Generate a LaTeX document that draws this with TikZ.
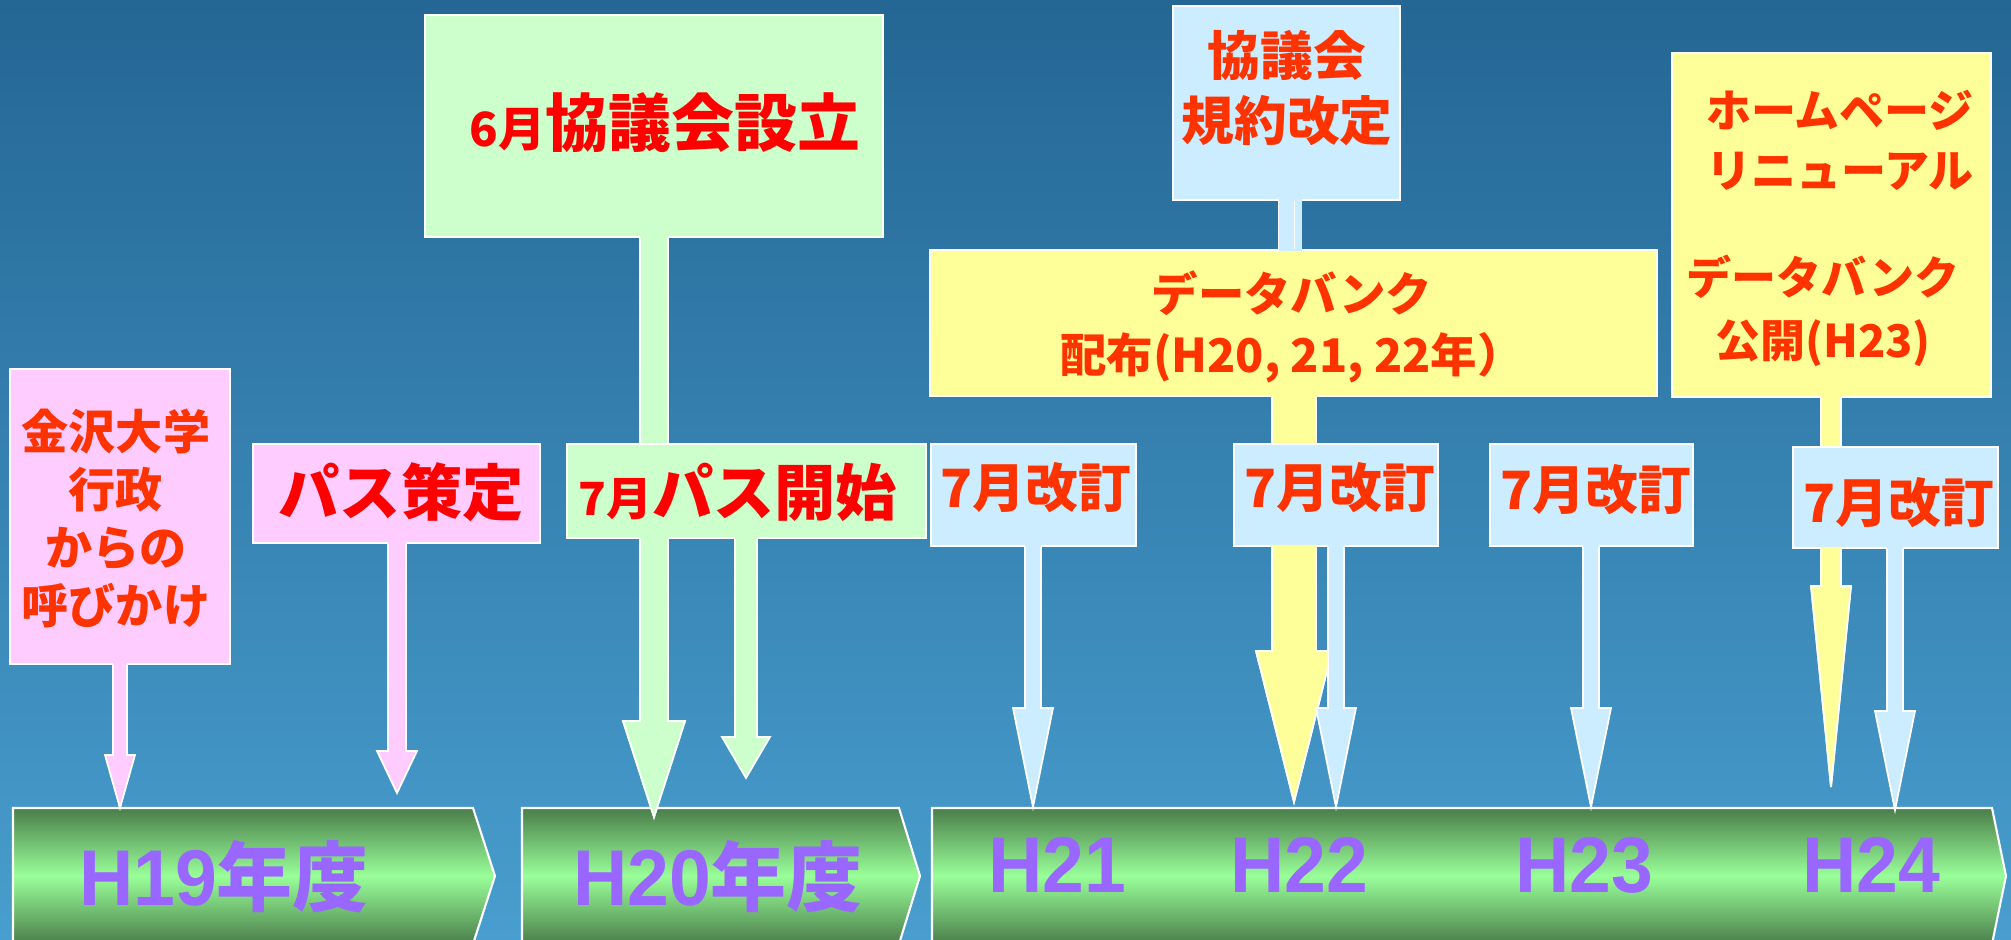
\documentclass[tikz,border=0pt]{standalone}
\usepackage{fontspec}
\newfontfamily\jpf{Noto Sans CJK JP}
\newfontfamily\latc{Liberation Sans}[FakeStretch=0.95]
\definecolor{bgtop}{RGB}{36,102,148}
\definecolor{bgbot}{RGB}{72,158,206}
\definecolor{pinkf}{HTML}{FFCCFF}
\definecolor{greenf}{HTML}{CCFFCC}
\definecolor{bluef}{HTML}{CCECFF}
\definecolor{yellowf}{HTML}{FFFF99}
\definecolor{txo}{HTML}{FF3300}
\definecolor{txr}{HTML}{FF0000}
\definecolor{purp}{HTML}{9966FF}
\definecolor{tldark}{RGB}{74,125,74}
\definecolor{tllight}{HTML}{99FF99}
\newdimen\pxu \pxu=0.01cm
\tikzset{
  box/.style={draw=white, line width=0.5pt, inner sep=0pt},
  edge/.style={draw=white, line width=0.5pt, line join=miter},
  txt/.style={inner sep=0pt, align=center, font=\jpf\bfseries},
  tl/.style={draw=white, line width=0.6pt, top color=tldark, bottom color=tldark, middle color=tllight},
  hl/.style={inner sep=0pt, text=purp, font=\bfseries\fontsize{22.5}{24}\selectfont},
}
\newcommand\hlat[1]{{\latc\bfseries #1}}
\newcommand\hjp[1]{{\jpf\bfseries\fontsize{21.6}{24}\selectfont #1}}
% block arrow: #1 colour, #2 source node, #3 tip coordinate, #4 stem half width, #5 head half width, #6 head length (px)
\newcommand\barrow[6]{%
  \fill[#1] ([xshift=-#4*\pxu, yshift=2*\pxu]#3 |- #2.south) -- ([xshift=-#4*\pxu, yshift=#6*\pxu]#3)
    -- ([xshift=-#5*\pxu, yshift=#6*\pxu]#3) -- (#3) -- ([xshift=#5*\pxu, yshift=#6*\pxu]#3)
    -- ([xshift=#4*\pxu, yshift=#6*\pxu]#3) -- ([xshift=#4*\pxu, yshift=2*\pxu]#3 |- #2.south) -- cycle;
  \draw[edge] ([xshift=-#4*\pxu]#3 |- #2.south) -- ([xshift=-#4*\pxu, yshift=#6*\pxu]#3)
    -- ([xshift=-#5*\pxu, yshift=#6*\pxu]#3) -- (#3) -- ([xshift=#5*\pxu, yshift=#6*\pxu]#3)
    -- ([xshift=#4*\pxu, yshift=#6*\pxu]#3) -- ([xshift=#4*\pxu]#3 |- #2.south);}
\begin{document}
\begin{tikzpicture}[x=0.01cm, y=-0.01cm]
\clip (0,0) rectangle (2011,940);
\shade[top color=bgtop, bottom color=bgbot] (0,0) rectangle (2011,940);

% timeline
\draw[tl] (13,808) -- (473,808) -- (495,876) -- (473,944) -- (13,944) -- cycle;
\draw[tl] (522,808) -- (899,808) -- (920,876) -- (899,944) -- (522,944) -- cycle;
\draw[tl] (932,808) -- (1992,808) -- (2006,876) -- (1992,944) -- (932,944) -- cycle;
\node[hl] (h19) at (224,877) {\hlat{H19}\hjp{年度}};
\node[hl] (h20) at (718,877) {\hlat{H20}\hjp{年度}};
\node[hl] (h21) at (1057,865) {\hlat{H21}};
\node[hl] (h22) at (1299,865) {\hlat{H22}};
\node[hl] (h23) at (1584,865) {\hlat{H23}};
\node[hl] (h24) at (1871,865) {\hlat{H24}};

% tips
\coordinate (tP1) at (120,808);
\coordinate (tP2) at (397,793);
\coordinate (tG1) at (654,817);
\coordinate (tG2) at (746,778);
\coordinate (tY1) at (1294,802);
\coordinate (tY2) at (1831,787);
\coordinate (tBa) at (1033,807);
\coordinate (tBb) at (1336,807);
\coordinate (tBc) at (1591,807);
\coordinate (tBd) at (1895,810);

% H19 / H20 boxes
\node[box, fill=pinkf, minimum width=2.2cm, minimum height=2.95cm] (kz) at (120,516.5) {};
\node[txt, text=txo, font=\jpf\bfseries\fontsize{13.4}{16.5}\selectfont] (kzt) at (116,518) {金沢大学\\行政\\からの\\呼びかけ};
\node[box, fill=pinkf, minimum width=2.87cm, minimum height=0.99cm] (pasu) at (396.5,493.5) {};
\node[txt, text=txr, font=\jpf\bfseries\fontsize{17.4}{20}\selectfont] (pasut) at (401,492) {パス策定};
\node[box, fill=greenf, minimum width=4.58cm, minimum height=2.22cm] (kyo) at (654,126) {};
\node[txt, text=txr, font=\jpf\bfseries\fontsize{17.9}{20}\selectfont] (kyot) at (665,123) {{\fontsize{13.4}{16}\selectfont 6月}協議会設立};
\barrow{pinkf}{kz}{tP1}{7}{15}{53}
\barrow{pinkf}{pasu}{tP2}{9}{20}{42}
\barrow{greenf}{kyo}{tG1}{14}{31}{96}

\node[box, fill=greenf, minimum width=3.59cm, minimum height=0.94cm] (pk) at (746.5,491) {};
\node[txt, text=txr, font=\jpf\bfseries\fontsize{17.4}{20}\selectfont] (pkt) at (738,492) {{\fontsize{13}{16}\selectfont 7月}パス開始};
\barrow{greenf}{pk}{tG1}{14}{31}{96}
\barrow{greenf}{pk}{tG2}{11}{24}{41}

% H21 - H24 upper boxes
\node[box, fill=bluef, minimum width=2.27cm, minimum height=1.94cm] (kiy) at (1286.5,103) {};
\node[txt, text=txo, font=\jpf\bfseries\fontsize{15}{18.5}\selectfont] (kiyt) at (1287,88) {協議会\\規約改定};
\node[box, fill=yellowf, minimum width=7.27cm, minimum height=1.46cm] (db) at (1293.5,323) {};
\node[txt, text=txo, font=\jpf\bfseries\fontsize{13.2}{17.4}\selectfont] (dbt) at (1292,327) {データバンク\\配布(H20, 21, 22年）};
\node[box, fill=yellowf, minimum width=3.19cm, minimum height=3.44cm] (hp) at (1831.5,225) {};
\node[txt, text=txo, font=\jpf\bfseries\fontsize{12.8}{17}\selectfont] (hpt1) at (1840,140) {ホームページ\\リニューアル};
\node[txt, text=txo, font=\jpf\bfseries\fontsize{12.8}{18}\selectfont] (hpt2) at (1823,311) {データバンク\\公開(H23)};
\fill[bluef] ([xshift=-8*\pxu, yshift=2*\pxu]kiy.south) rectangle ([xshift=8*\pxu, yshift=-2*\pxu]db.north);
\draw[edge] ([xshift=-8*\pxu]kiy.south) -- ([xshift=-8*\pxu]kiy.south |- db.north)
  ([xshift=8*\pxu]kiy.south) -- ([xshift=8*\pxu]kiy.south |- db.north);
\barrow{yellowf}{db}{tY1}{22}{38}{151}
\barrow{yellowf}{hp}{tY2}{10}{20}{201}

% 7月改訂 boxes
\node[box, fill=bluef, minimum width=2.05cm, minimum height=1.02cm] (ka) at (1033.5,495) {};
\node[box, fill=bluef, minimum width=2.04cm, minimum height=1.02cm] (kb) at (1336,495) {};
\node[box, fill=bluef, minimum width=2.03cm, minimum height=1.02cm] (kc) at (1591.5,495) {};
\node[box, fill=bluef, minimum width=2.05cm, minimum height=1.01cm] (kd) at (1895.5,497.5) {};
\node[txt, text=txo, font=\jpf\bfseries\fontsize{15}{18}\selectfont] (kat) at (1036,488) {7月改訂};
\node[txt, text=txo, font=\jpf\bfseries\fontsize{15}{18}\selectfont] (kbt) at (1340,488) {7月改訂};
\node[txt, text=txo, font=\jpf\bfseries\fontsize{15}{18}\selectfont] (kct) at (1596,490) {7月改訂};
\node[txt, text=txo, font=\jpf\bfseries\fontsize{15}{18}\selectfont] (kdt) at (1899,503) {7月改訂};
\barrow{yellowf}{kb}{tY1}{22}{38}{151}
\barrow{yellowf}{kd}{tY2}{10}{20}{201}
\barrow{bluef}{ka}{tBa}{8}{20}{99}
\barrow{bluef}{kb}{tBb}{8}{20}{99}
\barrow{bluef}{kc}{tBc}{8}{20}{99}
\barrow{bluef}{kd}{tBd}{8}{20}{99}
\end{tikzpicture}
\end{document}
